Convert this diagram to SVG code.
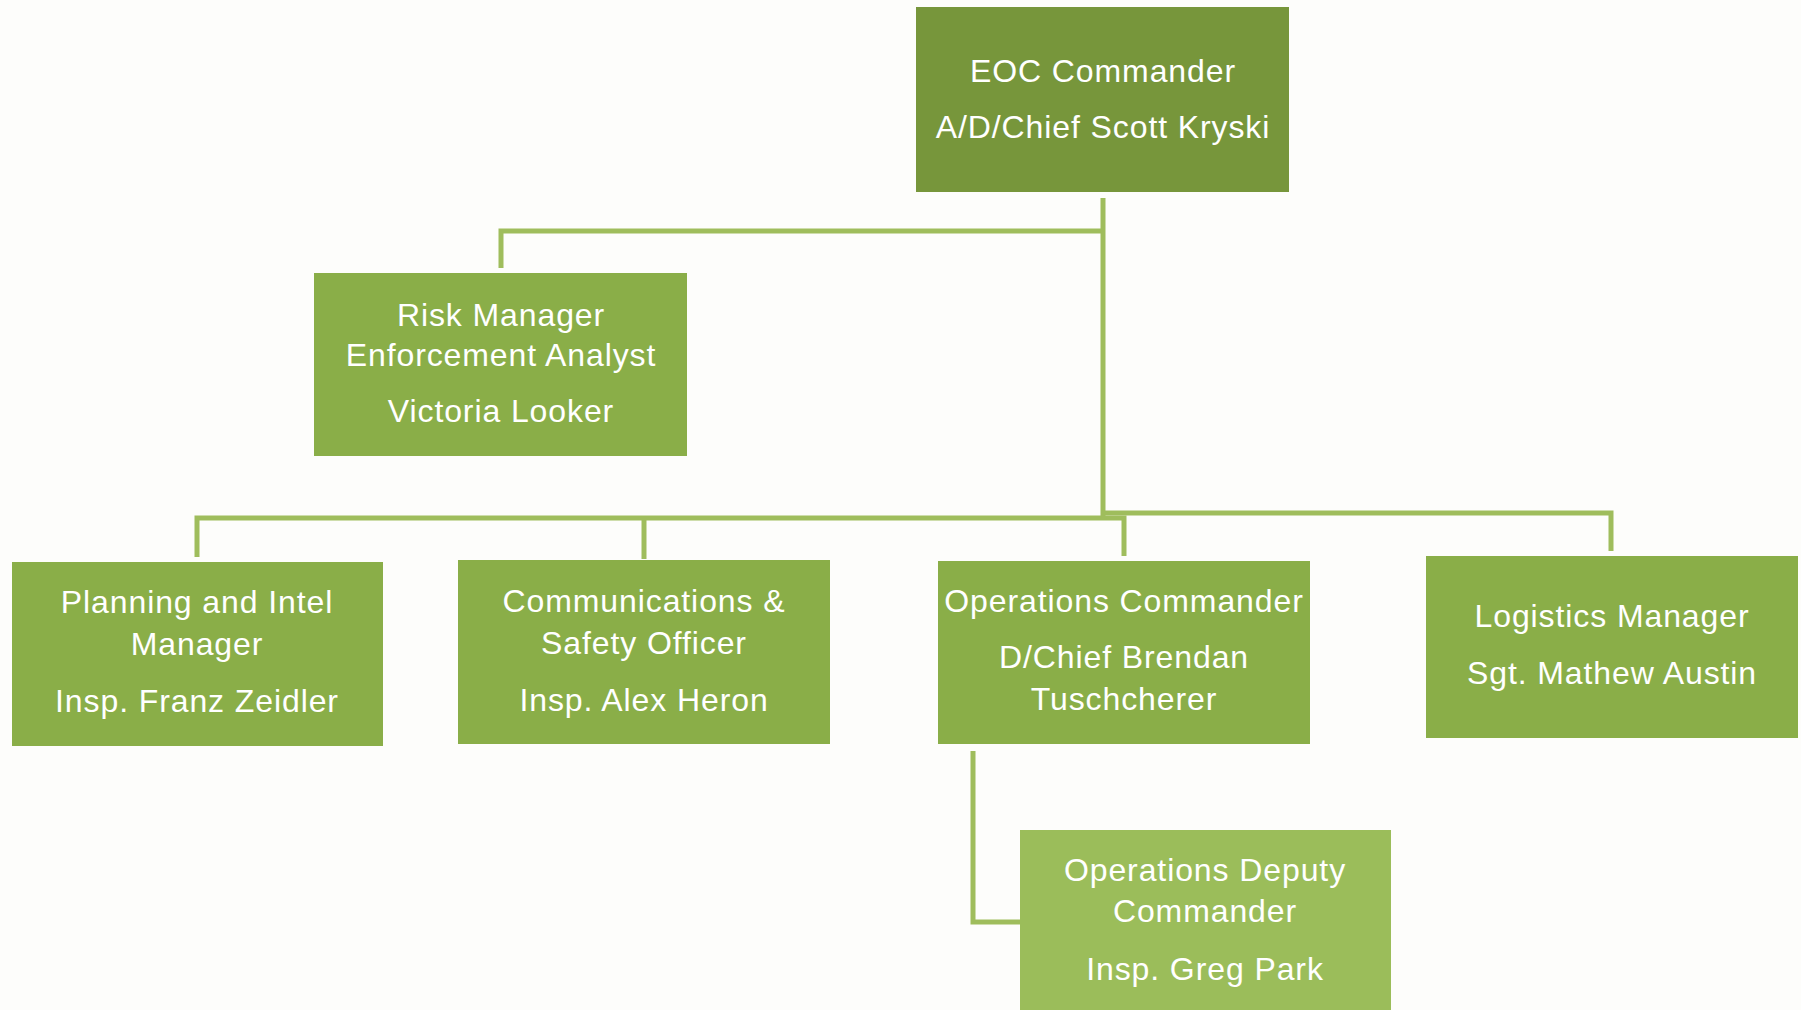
<svg xmlns="http://www.w3.org/2000/svg" width="1801" height="1010" viewBox="0 0 1801 1010">
<style>
.box{fill:#8aae48}
.dark{fill:#77963b}
.light{fill:#9bbd5a}
.t{font-family:"Liberation Sans",Arial,sans-serif;font-size:32px;fill:#ffffff;text-anchor:middle;letter-spacing:0.9px}
.c{fill:none;stroke:#9fbd5c;stroke-width:5}
</style>
<rect width="1801" height="1010" fill="#fdfdfb"/>
<g id="connectors">
<polyline class="c" points="1103,198 1103,518"/>
<polyline class="c" points="1103,231 501,231 501,268"/>
<polyline class="c" points="197,557 197,518 1124,518 1124,556"/>
<polyline class="c" points="644,518 644,559"/>
<polyline class="c" points="1103,513 1611,513 1611,551"/>
<polyline class="c" points="973,751 973,922 1020,922"/>
</g>
<g id="eoc">
<rect class="dark" x="916" y="7" width="373" height="185"/>
<text class="t" x="1103" y="82">EOC Commander</text>
<text class="t" x="1103" y="138">A/D/Chief Scott Kryski</text>
</g>
<g id="risk">
<rect class="box" x="314" y="273" width="373" height="183"/>
<text class="t" x="501" y="326">Risk Manager</text>
<text class="t" x="501" y="366">Enforcement Analyst</text>
<text class="t" x="501" y="422">Victoria Looker</text>
</g>
<g id="planning">
<rect class="box" x="12" y="562" width="371" height="184"/>
<text class="t" x="197" y="613">Planning and Intel</text>
<text class="t" x="197" y="655">Manager</text>
<text class="t" x="197" y="712">Insp. Franz Zeidler</text>
</g>
<g id="comms">
<rect class="box" x="458" y="560" width="372" height="184"/>
<text class="t" x="644" y="612">Communications &amp;</text>
<text class="t" x="644" y="654">Safety Officer</text>
<text class="t" x="644" y="711">Insp. Alex Heron</text>
</g>
<g id="ops">
<rect class="box" x="938" y="561" width="372" height="183"/>
<text class="t" x="1124" y="612">Operations Commander</text>
<text class="t" x="1124" y="668">D/Chief Brendan</text>
<text class="t" x="1124" y="710">Tuschcherer</text>
</g>
<g id="logistics">
<rect class="box" x="1426" y="556" width="372" height="182"/>
<text class="t" x="1612" y="627">Logistics Manager</text>
<text class="t" x="1612" y="684">Sgt. Mathew Austin</text>
</g>
<g id="deputy">
<rect class="light" x="1020" y="830" width="371" height="185"/>
<text class="t" x="1205" y="881">Operations Deputy</text>
<text class="t" x="1205" y="922">Commander</text>
<text class="t" x="1205" y="980">Insp. Greg Park</text>
</g>
</svg>
